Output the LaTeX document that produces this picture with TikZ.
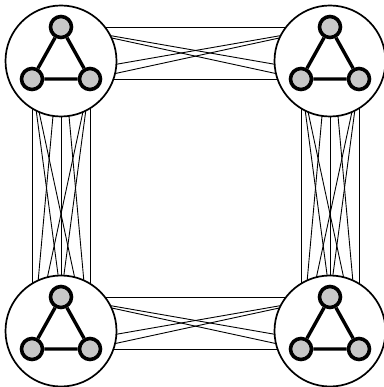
\documentclass[tikz,border=0pt]{standalone}
\pgfdeclarelayer{bg}
\pgfdeclarelayer{mid}
\pgfsetlayers{bg,mid,main}
\definecolor{nodegray}{RGB}{200,200,200}
\begin{document}
\begin{tikzpicture}[x=1pt,y=-1pt,
  small/.style={circle,draw,fill=nodegray,line width=3.6pt,minimum size=21pt,inner sep=0pt},
  big/.style={circle,draw,fill=white,line width=1.7pt,minimum size=111pt,inner sep=0pt},
  tri/.style={line width=3.4pt},
  link/.style={line width=0.9pt}]
\useasboundingbox (0,0) rectangle (383,387);
\foreach \n/\cx/\cy in {A/61/61, B/330/61, C/61/331, D/330/331} {
  \begin{pgfonlayer}{mid}
    \node[big] (\n) at (\cx,\cy) {};
  \end{pgfonlayer}
  \node[small] (\n1) at (\cx,\cy-34) {};
  \node[small] (\n2) at (\cx-29,\cy+18) {};
  \node[small] (\n3) at (\cx+29,\cy+18) {};
  \draw[tri] (\n1) -- (\n2) -- (\n3) -- (\n1);
}
\begin{pgfonlayer}{bg}
  \foreach \p/\q in {A/B, A/C, B/D, C/D} {
    \foreach \i in {1,2,3} {
      \foreach \j in {1,2,3} {
        \draw[link] (\p\i.center) -- (\q\j.center);
      }
    }
  }
\end{pgfonlayer}
\end{tikzpicture}
\end{document}
